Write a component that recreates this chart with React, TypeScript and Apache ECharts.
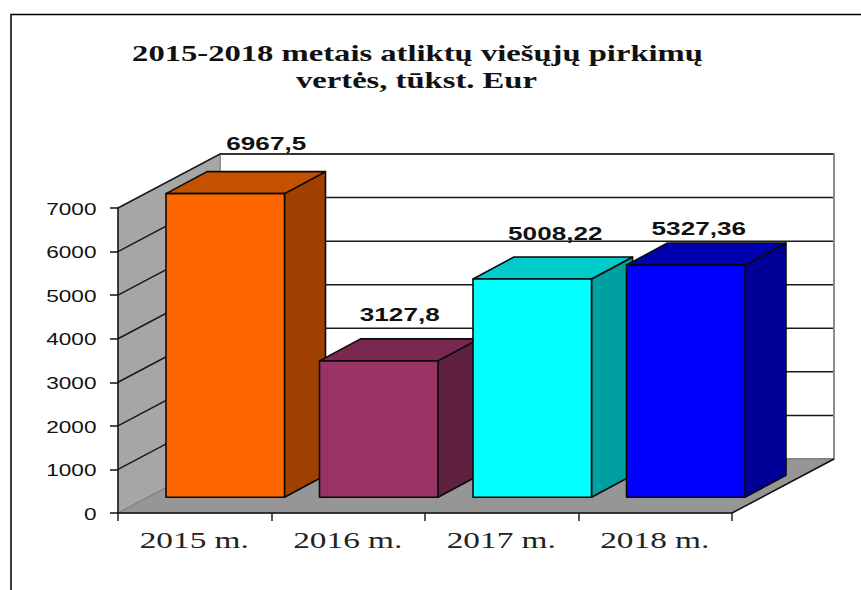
import React, { useEffect, useRef } from "react";
import * as echarts from "echarts";

const titleLines = ["2015-2018 metais atliktų viešųjų pirkimų", "vertės, tūkst. Eur"];
const categories = ["2015 m.", "2016 m.", "2017 m.", "2018 m."];
const values = [6967.5, 3127.8, 5008.22, 5327.36];
const valueLabels = ["6967,5", "3127,8", "5008,22", "5327,36"];
const yTicks = [0, 1000, 2000, 3000, 4000, 5000, 6000, 7000];
const faceColors = ["#FF6600", "#993366", "#00FFFF", "#0000FF"];
const topColors = ["#C45000", "#7A2850", "#00CCCC", "#0000B0"];
const sideColors = ["#A04000", "#602040", "#00A0A0", "#000099"];

// layout of the pseudo-3D projection, in pixels
const WALL_DX = 102;
const WALL_DY = -54;
const BAR_FRONT_DX = 30.5;
const BAR_FRONT_DY = -15.8;
const BAR_DX = 41;
const BAR_DY = -22;
const BAR_W = 118.5;
const LABEL_DX = [41, 21, 23, 13];
const LABEL_DY = [-27.5, -24.5, -23.5, -14.5];

export default function App() {
  const ref = useRef<HTMLDivElement>(null);
  useEffect(() => {
    document.body.style.margin = "0";
    document.body.style.overflow = "hidden";
    const chart = echarts.init(ref.current!, undefined, { renderer: "svg" });

    const wallItem = (params: any, api: any) => {
      const { x: left, width } = params.coordSys;
      const right = left + width;
      const y0 = api.coord([0, 0])[1];
      const yTop = api.coord([0, yTicks[yTicks.length - 1]])[1];
      const children: any[] = [
        {
          type: "polygon",
          shape: { points: [[left + WALL_DX, y0 + WALL_DY], [right + WALL_DX, y0 + WALL_DY], [right + WALL_DX, yTop + WALL_DY], [left + WALL_DX, yTop + WALL_DY]] },
          style: { fill: "#FFFFFF", stroke: "#8C8C8C", lineWidth: 2 },
        },
        {
          type: "polygon",
          shape: { points: [[left, y0], [left + WALL_DX, y0 + WALL_DY], [left + WALL_DX, yTop + WALL_DY], [left, yTop]] },
          style: { fill: "#A6A6A6", stroke: "#8C8C8C", lineWidth: 1 },
        },
        {
          type: "polygon",
          shape: { points: [[left, y0], [right, y0], [right + WALL_DX, y0 + WALL_DY], [left + WALL_DX, y0 + WALL_DY]] },
          style: { fill: "#969696", stroke: "#7A7A7A", lineWidth: 1 },
        },
        {
          type: "line",
          shape: { x1: right, y1: y0, x2: right + WALL_DX, y2: y0 + WALL_DY },
          style: { stroke: "#111111", lineWidth: 1.5 },
        },
      ];
      yTicks.slice(1).forEach((t) => {
        const y = api.coord([0, t])[1];
        children.push({
          type: "polyline",
          shape: { points: [[left, y], [left + WALL_DX, y + WALL_DY], [right + WALL_DX - 1, y + WALL_DY]] },
          style: { fill: "none", stroke: "#1A1A1A", lineWidth: 1.5 },
        });
      });
      return { type: "group", children };
    };

    const barItem = (_params: any, api: any) => {
      const i = api.value(0);
      const [cx, top] = api.coord([i, api.value(1)]);
      const bottom = api.coord([i, 0])[1];
      const x1 = cx + BAR_FRONT_DX - BAR_W / 2;
      const x2 = x1 + BAR_W;
      const yT = top + BAR_FRONT_DY;
      const yB = bottom + BAR_FRONT_DY;
      const stroke = { stroke: "#0A0A0A", lineWidth: 1.6, lineJoin: "round" };
      return {
        type: "group",
        children: [
          { type: "polygon", shape: { points: [[x2, yT], [x2 + BAR_DX, yT + BAR_DY], [x2 + BAR_DX, yB + BAR_DY], [x2, yB]] }, style: { fill: sideColors[i], ...stroke } },
          { type: "polygon", shape: { points: [[x1, yT], [x1 + BAR_DX, yT + BAR_DY], [x2 + BAR_DX, yT + BAR_DY], [x2, yT]] }, style: { fill: topColors[i], ...stroke } },
          { type: "rect", shape: { x: x1, y: yT, width: BAR_W, height: yB - yT }, style: { fill: faceColors[i], ...stroke } },
        ],
      };
    };

    const valueLabelItem = (_params: any, api: any) => {
      const i = api.value(0);
      const [cx, top] = api.coord([i, api.value(1)]);
      return {
        type: "text",
        x: cx + BAR_FRONT_DX + LABEL_DX[i],
        y: top + BAR_FRONT_DY + BAR_DY + LABEL_DY[i],
        scaleX: 1.41,
        style: { text: valueLabels[i], font: 'bold 18.5px "Liberation Sans", Arial, sans-serif', fill: "#111111", align: "center", verticalAlign: "middle" },
      };
    };

    const xLabelItem = (_params: any, api: any) => {
      const i = api.value(0);
      const [cx, y0] = api.coord([i, 0]);
      return {
        type: "text",
        x: cx - 0.5,
        y: y0 + 27,
        scaleX: 1.45,
        style: { text: categories[i], font: '23px "Liberation Serif", "Times New Roman", serif', fill: "#222222", align: "center", verticalAlign: "middle" },
      };
    };

    const yLabelItem = (params: any, api: any) => {
      const t = api.value(1);
      const y = api.coord([0, t])[1];
      return {
        type: "text",
        x: params.coordSys.x - 21.5,
        y: y + 0.8,
        scaleX: 1.33,
        style: { text: String(t), font: '17px "Liberation Sans", Arial, sans-serif', fill: "#111111", align: "right", verticalAlign: "middle" },
      };
    };

    chart.setOption({
      animation: false,
      backgroundColor: "#FFFFFF",
      grid: { left: 118, right: 129, top: 208, bottom: 77, containLabel: false },
      graphic: [
        { type: "polyline", shape: { points: [[11, 590], [11, 14.5], [861, 14.5]] }, style: { fill: "none", stroke: "#000000", lineWidth: 1.5 } },
        { type: "text", x: 417.5, y: 53, scaleX: 1.36, style: { text: titleLines[0], font: 'bold 24px "Liberation Serif", "Times New Roman", serif', fill: "#111111", align: "center", verticalAlign: "middle" } },
        { type: "text", x: 416.5, y: 80, scaleX: 1.36, style: { text: titleLines[1], font: 'bold 24px "Liberation Serif", "Times New Roman", serif', fill: "#111111", align: "center", verticalAlign: "middle" } },
      ],
      xAxis: {
        type: "category",
        data: categories,
        z: 10,
        axisLine: { show: true, lineStyle: { color: "#111111", width: 1.5 } },
        axisTick: { show: true, alignWithLabel: false, length: 8, lineStyle: { color: "#222222", width: 1.5 } },
        axisLabel: { show: false },
        splitLine: { show: false },
      },
      yAxis: {
        type: "value",
        min: 0,
        max: 7000,
        interval: 1000,
        z: 10,
        axisLine: { show: true, lineStyle: { color: "#111111", width: 1.5 } },
        axisTick: { show: true, length: 8, lineStyle: { color: "#111111", width: 1.5 } },
        axisLabel: { show: false },
        splitLine: { show: false },
      },
      series: [
        { type: "custom", z: 1, silent: true, renderItem: wallItem, data: [[0, 0]], encode: { x: 0, y: 1 } },
        { type: "custom", z: 2, silent: true, renderItem: barItem, data: values.map((v, i) => [i, v]), encode: { x: 0, y: 1 } },
        { type: "custom", z: 3, silent: true, renderItem: valueLabelItem, data: values.map((v, i) => [i, v]), encode: { x: 0, y: 1 } },
        { type: "custom", z: 3, silent: true, renderItem: xLabelItem, data: categories.map((_, i) => [i, 0]), encode: { x: 0, y: 1 } },
        { type: "custom", z: 3, silent: true, renderItem: yLabelItem, data: yTicks.map((t) => [0, t]), encode: { x: 0, y: 1 } },
      ],
    });
    return () => chart.dispose();
  }, []);
  return <div ref={ref} style={{ width: 861, height: 590 }} />;
}
